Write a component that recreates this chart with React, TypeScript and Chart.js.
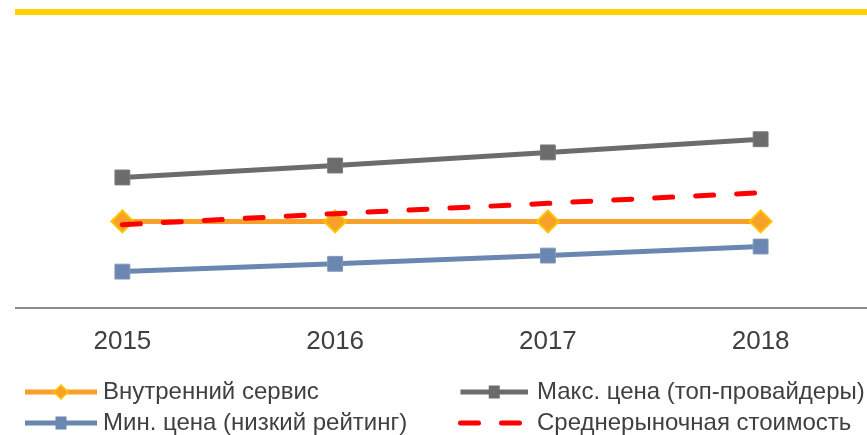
import React, { useEffect, useRef } from 'react';
import { Chart, registerables } from 'chart.js';

Chart.register(...registerables);

const years = ['2015', '2016', '2017', '2018'];
const internalService = [21, 21, 21, 21];
const maxPrice = [31.7, 34.6, 37.8, 41.0];
const minPrice = [8.8, 10.7, 12.7, 14.9];
const avgMarket = [20.2, 22.9, 25.4, 28.0];
const seriesNames = [
  'Внутренний сервис',
  'Макс. цена (топ-провайдеры)',
  'Мин. цена (низкий рейтинг)',
  'Среднерыночная стоимость',
];

const ORANGE = '#F7A02A';
const GRAY = '#6C6C6C';
const BLUE = '#6A86B1';
const RED = '#FF0000';
const TEXT = '#404040';

const decorPlugin = {
  id: 'decor',
  beforeDraw(chart: any) {
    const ctx = chart.ctx;
    ctx.save();
    ctx.fillStyle = '#ffffff';
    ctx.fillRect(0, 0, chart.width, chart.height);
    ctx.fillStyle = '#FFD200';
    ctx.fillRect(15, 9, chart.width - 15, 6);
    ctx.restore();
  },
  afterDraw(chart: any) {
    const ctx = chart.ctx;
    const cols = [
      { x0: 25, x1: 97, tx: 103 },
      { x0: 460.5, x1: 528, tx: 537 },
    ];
    const rows = [392, 423];
    const items = [
      { ds: 0, col: 0, row: 0 },
      { ds: 1, col: 1, row: 0 },
      { ds: 2, col: 0, row: 1 },
      { ds: 3, col: 1, row: 1 },
    ];
    items.forEach((it) => {
      const d: any = chart.data.datasets[it.ds];
      const c = cols[it.col];
      const y = rows[it.row];
      ctx.save();
      ctx.strokeStyle = d.borderColor;
      ctx.lineWidth = 5;
      if (d.borderDash) {
        ctx.setLineDash(d.borderDash);
        ctx.lineCap = 'round';
        ctx.beginPath();
        ctx.moveTo(c.x0, y);
        ctx.lineTo(520, y);
        ctx.stroke();
      } else {
        ctx.lineCap = 'butt';
        ctx.beginPath();
        ctx.moveTo(c.x0, y);
        ctx.lineTo(c.x1, y);
        ctx.stroke();
        const mx = (c.x0 + c.x1) / 2;
        ctx.setLineDash([]);
        ctx.fillStyle = d.pointBackgroundColor;
        ctx.strokeStyle = d.pointBorderColor;
        ctx.lineWidth = 1.5;
        if (d.pointStyle === 'rectRot') {
          const r = 7;
          ctx.beginPath();
          ctx.moveTo(mx, y - r);
          ctx.lineTo(mx + r, y);
          ctx.lineTo(mx, y + r);
          ctx.lineTo(mx - r, y);
          ctx.closePath();
          ctx.fill();
          ctx.stroke();
        } else {
          const h = 5.5;
          ctx.fillRect(mx - h, y - h - 1, 2 * h, 2 * h + 2);
        }
      }
      ctx.restore();
      ctx.save();
      ctx.fillStyle = TEXT;
      ctx.font = '24px "Liberation Sans", Arial, sans-serif';
      ctx.textBaseline = 'middle';
      ctx.textAlign = 'left';
      ctx.fillText(d.label, c.tx, y);
      ctx.restore();
    });
  },
};

export default function App() {
  const ref = useRef<HTMLCanvasElement | null>(null);
  useEffect(() => {
    if (!ref.current) return;
    const chart = new Chart(ref.current, {
      type: 'line',
      data: {
        labels: years,
        datasets: [
          {
            label: seriesNames[0],
            data: internalService,
            borderColor: ORANGE,
            backgroundColor: ORANGE,
            borderWidth: 5,
            pointStyle: 'rectRot',
            pointRadius: 11,
            pointBackgroundColor: ORANGE,
            pointBorderColor: '#FFC400',
            pointBorderWidth: 2,
            order: 2,
          },
          {
            label: seriesNames[1],
            data: maxPrice,
            borderColor: GRAY,
            backgroundColor: GRAY,
            borderWidth: 5,
            pointStyle: 'rect',
            pointRadius: 10.5,
            pointBackgroundColor: GRAY,
            pointBorderColor: '#7A7A7A',
            pointBorderWidth: 1,
            order: 3,
          },
          {
            label: seriesNames[2],
            data: minPrice,
            borderColor: BLUE,
            backgroundColor: BLUE,
            borderWidth: 5,
            pointStyle: 'rect',
            pointRadius: 10.5,
            pointBackgroundColor: BLUE,
            pointBorderColor: '#7F97BD',
            pointBorderWidth: 1,
            order: 4,
          },
          {
            label: seriesNames[3],
            data: avgMarket,
            borderColor: RED,
            backgroundColor: RED,
            borderWidth: 5,
            borderDash: [18, 23],
            borderCapStyle: 'round',
            pointRadius: 0,
            order: 1,
          },
        ],
      },
      options: {
        animation: false,
        responsive: true,
        maintainAspectRatio: false,
        layout: { autoPadding: false, padding: { top: 20, left: 16, right: -3, bottom: 60 } },
        plugins: { legend: { display: false }, tooltip: { enabled: false } },
        scales: {
          x: {
            offset: true,
            grid: { display: false, drawTicks: false },
            border: { display: true, color: '#8C8C8C', width: 2 },
            ticks: {
              font: { size: 26, family: '"Liberation Sans", Arial, sans-serif' },
              color: TEXT,
              padding: 18,
            },
            afterFit(scale: any) {
              scale.paddingLeft = 0;
              scale.paddingRight = 0;
            },
          },
          y: { display: false, min: 0, max: 70 },
        },
      },
      plugins: [decorPlugin],
    } as any);
    return () => chart.destroy();
  }, []);
  return (
    <div style={{ position: 'fixed', left: 0, top: 0, width: 867, height: 435, background: '#fff' }}>
      <canvas ref={ref} />
    </div>
  );
}
